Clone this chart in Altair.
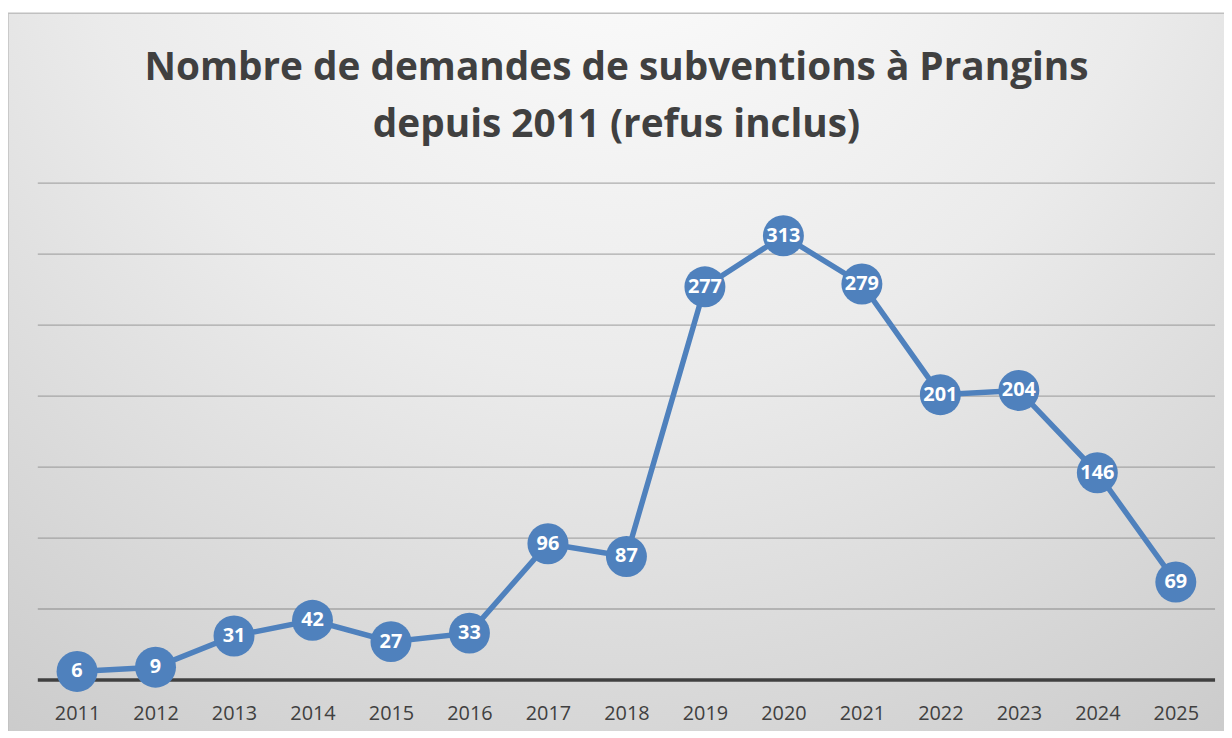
import altair as alt
import pandas as pd

years = ["2011", "2012", "2013", "2014", "2015", "2016", "2017", "2018",
         "2019", "2020", "2021", "2022", "2023", "2024", "2025"]
counts = [6, 9, 31, 42, 27, 33, 96, 87, 277, 313, 279, 201, 204, 146, 69]
grid_values = [50, 100, 150, 200, 250, 300, 350]
title_lines = ["Nombre de demandes de subventions à Prangins", "depuis 2011 (refus inclus)"]

df = pd.DataFrame({"year": years, "count": counts})
gdf = pd.DataFrame({"g": grid_values})

W, H = 1185, 500
BLUE = "#4f81bd"

x_enc = alt.X("year:N", sort=years, title=None,
              scale=alt.Scale(type="point", padding=0.5),
              axis=alt.Axis(labelAngle=0, labelFont="Open Sans", labelFontSize=20,
                            labelColor="#404040", labelPadding=24, ticks=False,
                            domain=False, grid=False, zindex=1))
y_scale = alt.Scale(domain=[0, 350], nice=False)
y_enc = alt.Y("count:Q", title=None, scale=y_scale, axis=None)

one = pd.DataFrame({"a": [0]})

bg = alt.Chart(one).mark_rect(
    fill={"gradient": "radial", "x1": 0.5, "y1": 0.05, "r1": 0.0,
          "x2": 0.5, "y2": 0.05, "r2": 0.9,
          "stops": [{"offset": 0, "color": "#ffffff"},
                    {"offset": 0.5, "color": "#ebebeb"},
                    {"offset": 1, "color": "#cbcbcb"}]},
    stroke="#c0c0c0", strokeWidth=1.5
).encode(x=alt.value(-30), x2=alt.value(W + 12), y=alt.value(-171), y2=alt.value(H + 60))

title = alt.Chart(one).mark_text(
    font="Open Sans", fontWeight="bold", fontSize=39, color="#404040",
    lineHeight=57, align="center", baseline="alphabetic"
).encode(x=alt.value(W / 2 - 10), y=alt.value(-104), text=alt.value(title_lines))

grid = alt.Chart(gdf).mark_rule(color="#888888", strokeWidth=1.3, opacity=0.65).encode(
    y=alt.Y("g:Q", scale=y_scale, axis=None))
baseline = alt.Chart(pd.DataFrame({"g": [0]})).mark_rule(color="#404040", strokeWidth=3.5).encode(
    y=alt.Y("g:Q", scale=y_scale, axis=None))

base = alt.Chart(df).encode(x=x_enc, y=y_enc)

line = base.mark_line(color=BLUE, strokeWidth=5.5)
pts = base.mark_circle(color=BLUE, opacity=1, size=1700)
labels = base.mark_text(color="white", font="Open Sans", fontWeight="bold",
                        fontSize=20, baseline="middle", align="center").encode(
    text=alt.Text("count:Q"))

chart = alt.layer(bg, title, grid, baseline, line, pts, labels).properties(
    width=W, height=H,
    autosize=alt.AutoSizeParams(type="none"),
    padding={"left": 30, "top": 174, "right": 9, "bottom": 49},
    background="white",
).configure_view(stroke=None)

chart.save("out.html", embed_options={"renderer": "svg", "actions": False})
